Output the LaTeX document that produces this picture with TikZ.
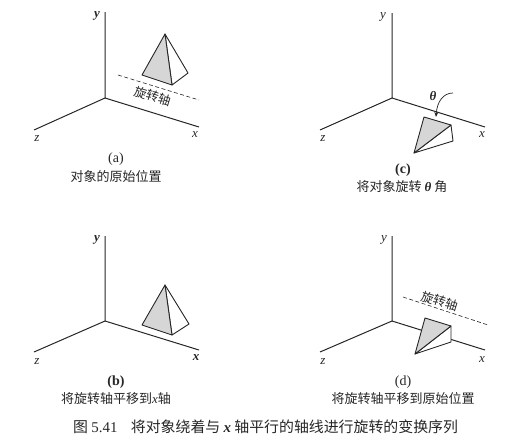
\documentclass[tikz,border=0pt]{standalone}
\usepackage{fontspec}
\setmainfont{Liberation Serif}
\newfontfamily\cjk{Noto Sans CJK SC}
\usetikzlibrary{arrows.meta}
\tikzset{
  axisline/.style={line width=1pt,black!85},
  axlabel/.style={font=\itshape\fontsize{13}{13}\selectfont,inner sep=0pt,text=black!85},
  tag/.style={font=\fontsize{14}{14}\selectfont,inner sep=0pt,text=black!85},
  captext/.style={font=\cjk\fontsize{13}{13}\selectfont,inner sep=0pt,text=black!85},
  figtext/.style={font=\cjk\fontsize{14.9}{15}\selectfont,inner sep=0pt,text=black!85},
  facegray/.style={fill=black!16,draw=black!85,line width=0.9pt,line join=round},
  faceplain/.style={fill=white,draw=black!85,line width=0.9pt,line join=round},
  rotaxis/.style={dash pattern=on 4pt off 2.5pt,line width=0.6pt,black!85},
  rotlabel/.style={font=\cjk\fontsize{12.5}{13}\selectfont,inner sep=0pt,rotate=-17,text=black!85}
}
\begin{document}
\begin{tikzpicture}[x=1pt,y=-1pt]
\useasboundingbox (0,0) rectangle (521,447);
% panel a
\coordinate (ao) at (105,98); \coordinate (ay) at (105,12);
\coordinate (az) at (34,130); \coordinate (ax) at (199,127);
\draw[axisline] (ay) -- (ao) -- (ax); \draw[axisline] (ao) -- (az);
\coordinate (ap) at (165,34); \coordinate (al) at (142,75);
\coordinate (af) at (172,85); \coordinate (ar) at (188,73);
\filldraw[faceplain] (ap) -- (af) -- (ar) -- cycle;
\filldraw[facegray] (ap) -- (al) -- (af) -- cycle;
\coordinate (ad1) at (118,75); \coordinate (ad2) at (199,100);
\draw[rotaxis] (ad1) -- (ad2);
\node[rotlabel] (arl) at (153,96) {旋转轴};
\node[axlabel] (aly) at (97,16) {\textbf{y}};
\node[axlabel] (alz) at (37,139) {z};
\node[axlabel] (alx) at (195,135) {x};
\node[tag] (ata) at (116,159) {(a)};
\node[captext] (acp) at (116,177) {对象的原始位置};
% panel c
\coordinate (co) at (392,98); \coordinate (cy) at (392,13);
\coordinate (cz) at (320,130); \coordinate (cx) at (485,127);
\draw[axisline] (cy) -- (co) -- (cx); \draw[axisline] (co) -- (cz);
\coordinate (ct) at (424,117); \coordinate (cr) at (451,125);
\coordinate (cb) at (453,141); \coordinate (cp) at (414,153);
\filldraw[faceplain] (cr) -- (cb) -- (cp) -- cycle;
\filldraw[facegray] (ct) -- (cr) -- (cp) -- cycle;
\node[axlabel] (cth) at (433,96) {\textbf{θ}};
\coordinate (ca1) at (453,93); \coordinate (ca2) at (436,117);
\draw[line width=0.7pt,black!85,-{Stealth[length=5pt,width=4pt]}] (ca1) .. controls (443,93) and (437,102) .. (ca2);
\node[axlabel] (cly) at (383,17) {y};
\node[axlabel] (clz) at (323,139) {z};
\node[axlabel] (clx) at (482,135) {x};
\node[tag] (ctc) at (403,170) {\textbf{(c)}};
\node[captext] (ccp) at (402,187) {将对象旋转 {\rmfamily\bfseries\itshape θ} 角};
% panel b
\coordinate (bo) at (105,321); \coordinate (by) at (105,236);
\coordinate (bz) at (34,352); \coordinate (bx) at (199,350);
\draw[axisline] (by) -- (bo) -- (bx); \draw[axisline] (bo) -- (bz);
\coordinate (bp) at (165,285); \coordinate (bl) at (142,325);
\coordinate (bf) at (172,335); \coordinate (br) at (189,324);
\filldraw[faceplain] (bp) -- (bf) -- (br) -- cycle;
\filldraw[facegray] (bp) -- (bl) -- (bf) -- cycle;
\node[axlabel] (bly) at (97,240) {\textbf{y}};
\node[axlabel] (blz) at (37,362) {z};
\node[axlabel] (blx) at (196,358) {\textbf{x}};
\node[tag] (btb) at (116,382) {\textbf{(b)}};
\node[captext] (bcp) at (116,399) {将旋转轴平移到{\rmfamily\itshape x}轴};
% panel d
\coordinate (do) at (392,321); \coordinate (dy) at (392,236);
\coordinate (dz) at (320,352); \coordinate (dx) at (485,350);
\draw[axisline] (dy) -- (do) -- (dx); \draw[axisline] (do) -- (dz);
\coordinate (dt) at (425,318); \coordinate (dr) at (451,326);
\coordinate (db) at (451,342); \coordinate (dp) at (415,354);
\filldraw[faceplain] (dr) -- (db) -- (dp) -- cycle;
\filldraw[facegray] (dt) -- (dr) -- (dp) -- cycle;
\coordinate (dd1) at (403,297); \coordinate (dd2) at (488,325);
\draw[rotaxis] (dd1) -- (dd2);
\node[rotlabel] (drl) at (440,301) {旋转轴};
\node[axlabel] (dly) at (384,240) {y};
\node[axlabel] (dlz) at (323,362) {z};
\node[axlabel] (dlx) at (482,360) {x};
\node[tag] (dtd) at (403,382) {(d)};
\node[captext] (dcp) at (403,399) {将旋转轴平移到原始位置};
% caption
\node[figtext,anchor=west] (fig) at (73,427) {图 {\rmfamily 5.41}\hspace{0.9em}将对象绕着与 {\rmfamily\bfseries\itshape x} 轴平行的轴线进行旋转的变换序列};
\end{tikzpicture}
\end{document}
